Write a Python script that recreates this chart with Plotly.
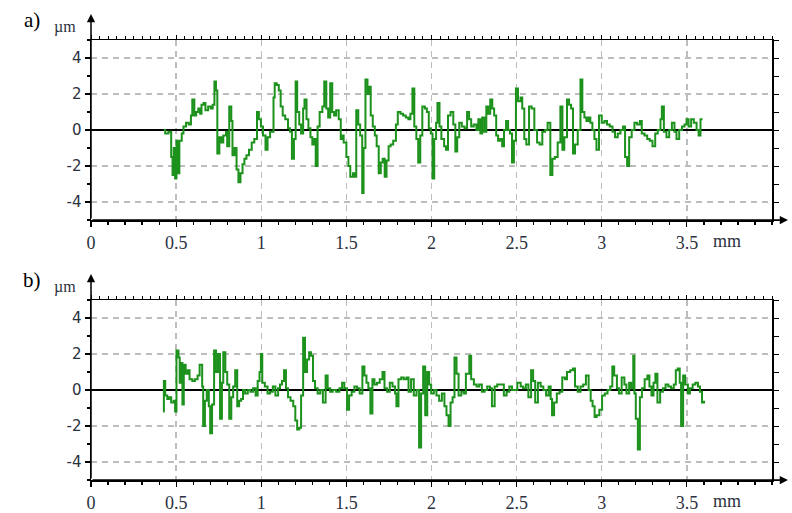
import plotly.graph_objects as go

# ---------------- data (profile a) ----------------
a_x = [0.428, 0.436, 0.455, 0.471, 0.479, 0.486, 0.494, 0.502, 0.510, 0.519, 0.533, 0.543, 0.558, 0.574,
       0.587, 0.595, 0.607, 0.618, 0.630, 0.641, 0.649, 0.661, 0.672, 0.688, 0.703, 0.715, 0.725, 0.734,
       0.742, 0.754, 0.766, 0.777, 0.793, 0.800, 0.812, 0.824, 0.831, 0.843, 0.855, 0.866, 0.878, 0.890,
       0.901, 0.913, 0.928, 0.944, 0.959, 0.975, 0.986, 0.998, 1.010, 1.025, 1.037, 1.052, 1.072, 1.079,
       1.091, 1.103, 1.114, 1.126, 1.141, 1.157, 1.169, 1.180, 1.192, 1.202, 1.211, 1.223, 1.234, 1.246,
       1.254, 1.266, 1.277, 1.289, 1.300, 1.312, 1.320, 1.331, 1.343, 1.359, 1.370, 1.382, 1.393, 1.405,
       1.417, 1.428, 1.440, 1.455, 1.467, 1.479,
       1.484, 1.500, 1.512, 1.523, 1.539, 1.550, 1.558, 1.570, 1.581, 1.593, 1.601, 1.612, 1.624, 1.632,
       1.643, 1.655, 1.667, 1.678, 1.690, 1.702, 1.713, 1.725, 1.736, 1.748, 1.760, 1.775, 1.791, 1.802,
       1.818, 1.833, 1.849, 1.864, 1.876, 1.888, 1.899, 1.911, 1.922, 1.934, 1.946, 1.961, 1.973, 1.984,
       1.996, 2.006, 2.016, 2.027, 2.035, 2.047, 2.058, 2.074, 2.085, 2.097, 2.112, 2.128, 2.140, 2.151,
       2.163, 2.178, 2.194, 2.209, 2.221, 2.233, 2.248, 2.264, 2.275, 2.287, 2.298, 2.310, 2.322, 2.333,
       2.345, 2.357, 2.368, 2.380, 2.391, 2.403, 2.415, 2.426, 2.438, 2.450, 2.461, 2.473, 2.484, 2.496,
       2.508, 2.523,
       2.533, 2.545, 2.557, 2.573, 2.588, 2.604, 2.620, 2.635, 2.651, 2.667, 2.682, 2.698, 2.710, 2.725,
       2.741, 2.757, 2.769, 2.780, 2.796, 2.808, 2.820, 2.831, 2.843, 2.859, 2.875, 2.886, 2.898, 2.910,
       2.922, 2.933, 2.945, 2.957, 2.969, 2.984, 3.000, 3.016, 3.031, 3.047, 3.063, 3.078, 3.094, 3.110,
       3.125, 3.137, 3.149, 3.161, 3.176, 3.192, 3.208, 3.224, 3.235, 3.251, 3.267, 3.282, 3.298, 3.314,
       3.329, 3.345, 3.353, 3.365, 3.380, 3.396, 3.412, 3.427, 3.439, 3.455, 3.471, 3.486, 3.498, 3.510,
       3.525, 3.541, 3.557, 3.569, 3.580, 3.592]
a_y = [0.0, -0.2, -0.1, -1.5, -2.5, -1.0, -2.7, -0.6, -2.4, -0.6, -0.2, 0.2, 0.4, 0.3,
       0.8, 1.7, 0.8, 1.0, 1.2, 0.9, 1.4, 1.5, 1.1, 1.3, 1.2, 1.4, 2.7, 2.2,
       -1.3, -0.4, -0.7, -0.3, -0.1, -0.9, 1.3, 0.5, -1.4, -1.0, -2.2, -2.9, -2.4, -1.9,
       -1.6, -1.4, -1.1, -0.7, -0.5, 1.0, 0.6, 0.2, -0.3, -1.1, -0.4, -0.1, 1.8, 2.6,
       2.5, 2.2, 1.3, 0.8, 0.6, 0.1, -0.1, -1.6, -0.5, 2.7, 1.0, 0.3, -0.2, 1.2,
       1.7, 0.6, 0.1, -0.4, -0.8, -0.5, -2.0, 0.2, 1.0, 1.3, 2.7, 1.2, 0.7, 2.6,
       1.0, 0.8, 1.1, 0.6, -0.5, -0.3,
       -0.7, -1.5, -2.0, -2.6, -2.4, -2.6, 1.1, 0.3, -0.3, -3.5, -1.0, 2.8, 2.0, 2.4,
       0.8, 0.2, -0.3, -0.9, -2.4, -1.8, -1.6, -2.6, -1.7, -0.9, -0.8, -0.6, 0.3, 1.0,
       0.9, 0.8, 0.7, 0.6, 0.9, 2.3, 0.2, -0.5, -1.8, -0.3, 1.3, 1.2, 1.0, 0.1,
       -0.2, -2.7, -0.5, 0.4, 1.5, 0.2, -0.5, -0.9, -1.1, 0.8, 1.0, 0.3, -1.2, -0.4,
       0.4, 0.2, 0.1, 1.0, 0.6, 0.2, 0.3, 0.0, 0.6, -0.2, 0.7, -0.1, 1.3, 0.9,
       1.7, 1.2, 0.8, -0.3, -0.6, -0.5, -0.9, 0.0, 0.5, 0.0, -0.2, -1.8, -0.6, 2.3,
       1.6, 1.8,
       1.2, -0.5, -0.8, 1.3, 1.2, 0.0, -0.7, -0.8, -0.1, 0.0, 0.4, -2.5, -1.6, -1.5,
       -0.7, 1.3, -1.1, -0.4, 1.7, 1.4, 1.2, -1.3, -0.8, 0.0, 2.8, 1.0, 0.7, 0.5,
       0.7, 0.4, 0.0, -0.5, -1.1, 0.8, 0.4, 0.5, 0.3, 0.2, -0.1, -0.4, -0.2, 0.0,
       0.2, -1.5, -2.0, -0.4, 0.0, 0.4, 0.3, 0.5, -0.2, -0.3, -0.5, -0.6, -0.9, -0.2,
       0.0, 0.6, 1.3, -0.1, -0.4, 0.0, 0.4, -0.1, -0.5, 0.0, 0.2, 0.3, 0.6, 0.2,
       0.6, 0.4, 0.0, -0.3, 0.6, 0.6]

# ---------------- data (profile b) ----------------
b_x = [0.424, 0.428, 0.436, 0.448, 0.459, 0.471, 0.486, 0.494, 0.502, 0.514, 0.521, 0.529, 0.537, 0.545,
       0.556, 0.568, 0.579, 0.595, 0.610, 0.626, 0.638, 0.653, 0.659, 0.669, 0.680, 0.692, 0.700, 0.711,
       0.723, 0.734, 0.746, 0.758, 0.769, 0.777, 0.789, 0.800, 0.812, 0.824, 0.835, 0.847, 0.859, 0.870,
       0.882, 0.893, 0.905, 0.921, 0.936, 0.952, 0.967, 0.979, 0.990, 0.998, 1.006, 1.021, 1.037, 1.052,
       1.068, 1.083, 1.099, 1.110, 1.122, 1.134, 1.145, 1.157, 1.172, 1.188, 1.200, 1.211, 1.223, 1.234,
       1.246, 1.257, 1.269, 1.281, 1.292, 1.304, 1.316, 1.331, 1.347, 1.362, 1.378, 1.390, 1.405, 1.420,
       1.440, 1.459, 1.475,
       1.488, 1.504, 1.516, 1.531, 1.547, 1.563, 1.578, 1.594, 1.606, 1.618, 1.629, 1.641, 1.653, 1.665,
       1.680, 1.696, 1.712, 1.724, 1.739, 1.755, 1.771, 1.786, 1.794, 1.806, 1.822, 1.837, 1.853, 1.865,
       1.880, 1.896, 1.912, 1.927, 1.939, 1.951, 1.963, 1.975, 1.986, 1.998, 2.014, 2.029, 2.045, 2.061,
       2.076, 2.088, 2.100, 2.112, 2.124, 2.135, 2.147, 2.159, 2.175, 2.190, 2.202, 2.222, 2.233, 2.249,
       2.265, 2.280, 2.296, 2.312, 2.327, 2.343, 2.355, 2.371, 2.386, 2.406, 2.425, 2.441, 2.457, 2.473,
       2.488, 2.504, 2.524,
       2.538, 2.554, 2.569, 2.585, 2.597, 2.609, 2.625, 2.641, 2.657, 2.673, 2.688, 2.700, 2.708, 2.720,
       2.736, 2.752, 2.768, 2.784, 2.796, 2.815, 2.831, 2.843, 2.859, 2.875, 2.891, 2.907, 2.923, 2.935,
       2.946, 2.958, 2.970, 2.986, 3.002, 3.018, 3.034, 3.050, 3.062, 3.073, 3.089, 3.101, 3.117, 3.133,
       3.145, 3.161, 3.173, 3.185, 3.192, 3.200, 3.212, 3.224, 3.236, 3.252, 3.268, 3.280, 3.292, 3.304,
       3.315, 3.327, 3.343, 3.359, 3.375, 3.391, 3.407, 3.423, 3.435, 3.446, 3.458, 3.466, 3.478, 3.490,
       3.506, 3.518, 3.534, 3.550, 3.565, 3.577, 3.589, 3.601]
b_y = [-1.2, 0.5, -0.3, -0.5, -0.4, -0.7, -0.6, -1.2, 2.2, 1.8, 0.4, 1.5, -0.8, 1.4,
       0.9, 1.1, 0.6, 0.5, 0.6, 0.8, 1.4, 0.2, -2.0, -0.6, 0.0, -0.9, -2.4, -0.8,
       2.2, 1.0, 2.0, -1.6, 0.4, 2.1, 1.0, 0.3, -1.6, -0.4, 0.2, 1.1, -0.9, -0.6,
       -0.5, 0.0, -0.2, 0.0, -0.1, 0.1, -0.3, 0.5, 1.0, 2.0, 0.4, 0.2, -0.2, -0.1,
       0.2, -0.3, 0.1, 0.3, 0.5, 1.1, 0.1, -0.4, -0.6, -0.9, -1.7, -2.2, -2.1, -0.3,
       2.9, 1.0, 1.7, 2.1, 1.9, 0.5, 0.1, -0.2, 0.0, -0.7, 0.8, 0.1, -0.1, 0.0,
       -0.1, 0.1, 0.4,
       0.1, -1.1, -0.3, -0.1, 0.2, 0.1, -0.2, 1.3, 0.8, 0.4, 0.1, -1.3, 0.6, 0.3,
       0.4, 0.6, 1.0, 0.1, -0.1, 0.4, 0.2, -0.2, -0.9, 0.6, 0.7, 0.6, 0.7, -0.1,
       0.6, -0.3, 0.0, -3.2, -0.2, 1.3, -1.4, 1.0, 0.3, -0.2, 0.0, -0.3, -0.6, -0.2,
       -0.9, -1.4, -2.0, -0.7, -0.4, 1.8, 0.9, -0.3, -0.1, -0.2, 0.9, 1.9, 0.6, 0.3,
       0.2, 0.3, -0.1, 0.0, 0.2, 0.1, -0.9, 0.2, 0.3, 0.3, -0.3, -0.1, 0.2, 0.0,
       0.0, 0.4, 0.2,
       0.1, 0.3, -0.4, 1.1, 0.5, -0.7, 0.4, 0.2, 0.0, -0.3, 0.2, -0.5, -1.4, -0.7,
       -0.2, -0.1, 0.7, 0.6, 1.0, 1.1, 1.2, 0.2, -0.1, 0.2, 0.3, 0.8, 0.0, -0.6,
       -0.9, -1.5, -1.4, -1.1, -0.3, -0.2, 0.0, 0.2, 1.3, 0.8, 0.1, -0.2, 0.7, 0.3,
       -0.2, 0.4, 0.1, 1.9, -0.2, -1.6, -3.3, -0.4, 0.1, 0.6, 0.8, 0.2, -0.3, 0.4,
       0.9, -0.7, -0.1, 0.1, 0.3, 0.2, 0.1, 0.3, 1.1, 1.2, 0.4, -2.0, 0.8, 0.3,
       -0.2, 0.1, 0.3, 0.4, 0.2, -0.1, -0.7, -0.6]

# ---------------- axis labels ----------------
x_ticks = [0, 0.5, 1, 1.5, 2, 2.5, 3, 3.5]
x_tick_text = ["0", "0.5", "1", "1.5", "2", "2.5", "3", "3.5"]
y_ticks = [-4, -2, 0, 2, 4]
y_tick_text = ["-4", "-2", "0", "2", "4"]
panel_labels = ["a)", "b)"]
y_unit = "µm"
x_unit = "mm"

GREEN = "#1c921c"
GRID = "#bdbdbd"
TXT = "#2b3140"

W, H = 792, 513
L, R, T, B = 91, 20, 40, 33
PW = W - L - R
PH = H - T - B
a_top, a_bot = 40, 220
b_top, b_bot = 300, 480


def py2paper(py):
    return (H - B - py) / PH


def px2paper(px):
    return (px - L) / PW


fig = go.Figure()
fig.add_trace(go.Scatter(x=a_x, y=a_y, mode="lines", line=dict(color=GREEN, width=2, shape="hv"),
                         xaxis="x", yaxis="y", showlegend=False, hoverinfo="skip"))
fig.add_trace(go.Scatter(x=b_x, y=b_y, mode="lines", line=dict(color=GREEN, width=2, shape="hv"),
                         xaxis="x2", yaxis="y2", showlegend=False, hoverinfo="skip"))
# empty traces so the frame (top / right) axes get drawn
fig.add_trace(go.Scatter(x=[None], y=[None], xaxis="x3", yaxis="y3", showlegend=False))
fig.add_trace(go.Scatter(x=[None], y=[None], xaxis="x4", yaxis="y4", showlegend=False))

dom_a = [py2paper(a_bot), py2paper(a_top)]
dom_b = [py2paper(b_bot), py2paper(b_top)]

xbase = dict(range=[0, 4], showline=True, linecolor="black", linewidth=1.5, automargin=False,
             tickmode="array", tickvals=x_ticks, ticktext=x_tick_text,
             ticks="outside", ticklen=5, tickwidth=1.2, tickcolor="black",
             minor=dict(dtick=0.1, ticks="outside", ticklen=3, tickcolor="black", showgrid=False),
             showgrid=True, gridcolor=GRID, griddash="6px,5px", gridwidth=1.3,
             zeroline=False, tickfont=dict(family="Liberation Serif", size=18, color=TXT),
             ticklabelstandoff=1, fixedrange=True)
ybase = dict(range=[-5, 5], showline=True, linecolor="black", linewidth=1.5, automargin=False,
             tickmode="array", tickvals=y_ticks, ticktext=y_tick_text,
             ticks="outside", ticklen=5, tickwidth=1.2, tickcolor="black",
             minor=dict(dtick=1, ticks="outside", ticklen=3, tickcolor="black", showgrid=False),
             showgrid=True, gridcolor=GRID, griddash="6px,5px", gridwidth=1.3,
             zeroline=True, zerolinecolor="black", zerolinewidth=1.6,
             tickfont=dict(family="DejaVu Sans", size=15, color=TXT), fixedrange=True)
xtop = dict(range=[0, 4], side="top", showline=True, linecolor="black", linewidth=1.5, automargin=False,
            showticklabels=False, ticks="outside", tickmode="array", tickvals=x_ticks, ticklen=4,
            tickcolor="black",
            minor=dict(dtick=0.05, ticks="outside", ticklen=3, tickcolor="black", showgrid=False),
            showgrid=False, zeroline=False, fixedrange=True)
yright = dict(range=[-5, 5], side="right", showline=True, linecolor="black", linewidth=1.5,
              automargin=False, showticklabels=False, ticks="outside", dtick=1, ticklen=5,
              tickcolor="black", showgrid=False, zeroline=False, fixedrange=True)

fig.update_layout(
    width=W, height=H,
    margin=dict(l=L, r=R, t=T, b=B, autoexpand=False),
    paper_bgcolor="white", plot_bgcolor="white", showlegend=False,
    xaxis=dict(xbase, domain=[0, 1], anchor="y"),
    yaxis=dict(ybase, domain=dom_a, anchor="x"),
    xaxis2=dict(xbase, domain=[0, 1], anchor="y2"),
    yaxis2=dict(ybase, domain=dom_b, anchor="x2"),
    xaxis3=dict(xtop, overlaying="x", anchor="y3"),
    yaxis3=dict(yright, overlaying="y", anchor="x3"),
    xaxis4=dict(xtop, overlaying="x2", anchor="y4"),
    yaxis4=dict(yright, overlaying="y2", anchor="x4"),
)

ann = []
for lab, top, bot in [(panel_labels[0], a_top, a_bot), (panel_labels[1], b_top, b_bot)]:
    ann.append(dict(text=lab, xref="paper", yref="paper", x=px2paper(32), y=py2paper(top - 20),
                    xanchor="center", yanchor="middle", showarrow=False,
                    font=dict(family="Liberation Serif", size=21, color="black")))
    ann.append(dict(text=y_unit, xref="paper", yref="paper", x=px2paper(65), y=py2paper(top - 13),
                    xanchor="center", yanchor="middle", showarrow=False,
                    font=dict(family="Liberation Serif", size=16, color=TXT)))
    ann.append(dict(text=x_unit, xref="paper", yref="paper", x=px2paper(727), y=py2paper(bot + 21),
                    xanchor="center", yanchor="middle", showarrow=False,
                    font=dict(family="Liberation Serif", size=18, color=TXT)))
    ann.append(dict(text="", xref="paper", yref="paper", x=0, y=py2paper(top - 26),
                    ax=0, ay=bot - (top - 26), axref="pixel", ayref="pixel",
                    showarrow=True, arrowhead=2, arrowsize=1.1, arrowwidth=1.5, arrowcolor="black"))
    ann.append(dict(text="", xref="paper", yref="paper", x=px2paper(788), y=py2paper(bot),
                    ax=-(788 - L), ay=0, axref="pixel", ayref="pixel",
                    showarrow=True, arrowhead=2, arrowsize=1.1, arrowwidth=1.5, arrowcolor="black"))
fig.update_layout(annotations=ann)

fig.write_html(
    "out.html",
    config={"displayModeBar": False, "staticPlot": True},
    post_script="document.body.style.margin='0px';document.body.style.overflow='hidden';",
)
